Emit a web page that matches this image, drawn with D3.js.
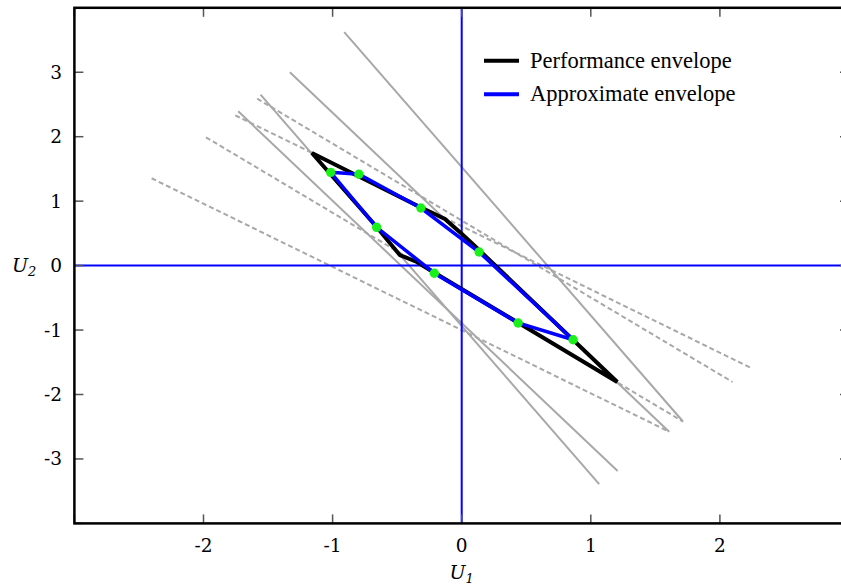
<!DOCTYPE html>
<html><head><meta charset="utf-8">
<script src="https://cdn.jsdelivr.net/npm/d3@7"></script>
<style>body{margin:0;background:#fff}svg{display:block}</style>
</head><body>
<svg id="c" width="841" height="586"></svg>
<script>
// ---- data ----
const xTicks = [-3,-2,-1,0,1,2,3];
const yTicks = [-4,-3,-2,-1,0,1,2,3,4];
const xTickLabels = ["-2","-1","0","1","2"];
const yTickLabels = ["-3","-2","-1","0","1","2","3"];
// solid gray lines [x1,y1,x2,y2]
const solidLines = [
  [-0.910, 3.624, 1.711, -2.411],
  [-1.331, 2.999, 1.607, -2.577],
  [-1.558, 2.652, 1.065, -3.390],
  [-1.731, 2.394, 1.208, -3.186]
];
// dashed gray lines
const dashedLines = [
  [-1.584, 2.590, 2.098, -1.806],
  [-1.754, 2.332, 2.246, -1.593],
  [-1.981, 1.991, 1.716, -2.422],
  [-2.402, 1.355, 1.607, -2.577]
];
// performance envelope (black)
const perfX = [-1.160, -0.324, -0.130, 0.002, 0.118, 1.205, -0.246, -0.347, -0.479, -0.557, -0.658];
const perfY = [ 1.747,  0.909,  0.723, 0.490, 0.273, -1.806, -0.068, 0.056, 0.164, 0.351, 0.599];
// approximate envelope (blue) with points
const approxX = [-1.015, -0.796, -0.316, 0.135, 0.863, 0.437, -0.212, -0.659];
const approxY = [ 1.447,  1.417,  0.893, 0.211, -1.151, -0.890, -0.118, 0.594];
const legendLabels = ["Performance envelope", "Approximate envelope"];

// ---- chart ----
const svg = d3.select("#c");
const x = d3.scaleLinear().domain([-3,3]).range([74.4,849]);
const y = d3.scaleLinear().domain([-4,4]).range([523.4,7.8]);
const X0 = x(-3), X1 = x(3), Y0 = y(-4), Y1 = y(4);

svg.append("defs").append("clipPath").attr("id","clip")
  .append("rect").attr("x",X0).attr("y",Y1).attr("width",X1-X0).attr("height",Y0-Y1);

const g = svg.append("g").attr("clip-path","url(#clip)");

// gray lines
g.selectAll(".sl").data(solidLines).enter().append("line")
  .attr("x1",d=>x(d[0])).attr("y1",d=>y(d[1])).attr("x2",d=>x(d[2])).attr("y2",d=>y(d[3]))
  .attr("stroke","#a8a8a8").attr("stroke-width",2);
g.selectAll(".dl").data(dashedLines).enter().append("line")
  .attr("x1",d=>x(d[0])).attr("y1",d=>y(d[1])).attr("x2",d=>x(d[2])).attr("y2",d=>y(d[3]))
  .attr("stroke","#a8a8a8").attr("stroke-width",2).attr("stroke-dasharray","5,3");

// blue axes lines
g.append("line").attr("x1",x(0)).attr("x2",x(0)).attr("y1",Y0).attr("y2",Y1)
  .attr("stroke","#0000ff").attr("stroke-width",2);
g.append("line").attr("x1",X0).attr("x2",X1).attr("y1",y(0)).attr("y2",y(0))
  .attr("stroke","#0000ff").attr("stroke-width",2);

const line = d3.line().x(d=>x(d[0])).y(d=>y(d[1])).curve(d3.curveLinearClosed);
const perf = perfX.map((v,i)=>[v,perfY[i]]);
const approx = approxX.map((v,i)=>[v,approxY[i]]);
g.append("path").attr("d",line(perf)).attr("fill","none").attr("stroke","#000").attr("stroke-width",4).attr("stroke-linejoin","miter");
g.append("path").attr("d",line(approx)).attr("fill","none").attr("stroke","#0000ff").attr("stroke-width",3.5);
g.selectAll(".pt").data(approx).enter().append("circle")
  .attr("cx",d=>x(d[0])).attr("cy",d=>y(d[1])).attr("r",4.7).attr("fill","#1af01a");

// frame + ticks
const tickColor = "#555";
const tl = 9;
xTicks.forEach(t=>{
  svg.append("line").attr("x1",x(t)).attr("x2",x(t)).attr("y1",Y0).attr("y2",Y0-tl).attr("stroke",tickColor).attr("stroke-width",1.5);
  svg.append("line").attr("x1",x(t)).attr("x2",x(t)).attr("y1",Y1).attr("y2",Y1+tl).attr("stroke",tickColor).attr("stroke-width",1.5);
});
yTicks.forEach(t=>{
  svg.append("line").attr("x1",X0).attr("x2",X0+tl).attr("y1",y(t)).attr("y2",y(t)).attr("stroke",tickColor).attr("stroke-width",1.5);
  svg.append("line").attr("x1",X1).attr("x2",X1-tl).attr("y1",y(t)).attr("y2",y(t)).attr("stroke",tickColor).attr("stroke-width",1.5);
});
svg.append("rect").attr("x",X0).attr("y",Y1).attr("width",X1-X0).attr("height",Y0-Y1)
  .attr("fill","none").attr("stroke","#000").attr("stroke-width",2.5);

const tf = "'DejaVu Serif', serif";
svg.selectAll(".xl").data(xTickLabels).enter().append("text")
  .attr("x",d=>x(+d)).attr("y",552).attr("text-anchor","middle")
  .attr("font-family",tf).attr("font-size",18.5).attr("fill","#000").text(d=>d);
svg.selectAll(".yl").data(yTickLabels).enter().append("text")
  .attr("x",62).attr("y",d=>y(+d)+6.5).attr("text-anchor","end")
  .attr("font-family",tf).attr("font-size",18.5).attr("fill","#000").text(d=>d);

// axis titles
const ax = svg.append("text").attr("x",x(0)).attr("y",579).attr("text-anchor","middle")
  .attr("font-family",tf).attr("font-style","italic").attr("font-size",19);
ax.append("tspan").text("U");
ax.append("tspan").attr("font-size",13).attr("dy",4).text("1");
const ay = svg.append("text").attr("x",12).attr("y",272)
  .attr("font-family",tf).attr("font-style","italic").attr("font-size",19);
ay.append("tspan").text("U");
ay.append("tspan").attr("font-size",13).attr("dy",4).text("2");

// legend
const legColors = ["#000","#0000ff"];
legendLabels.forEach((lab,i)=>{
  const ly = 60.7 + i*33.6;
  svg.append("line").attr("x1",484).attr("x2",519).attr("y1",ly).attr("y2",ly)
    .attr("stroke",legColors[i]).attr("stroke-width",4);
  svg.append("text").attr("x",530).attr("y",ly+7).attr("font-family","'Liberation Serif', 'Times New Roman', serif")
    .attr("font-size",22.5).attr("fill","#000").text(lab);
});
</script>
</body></html>
